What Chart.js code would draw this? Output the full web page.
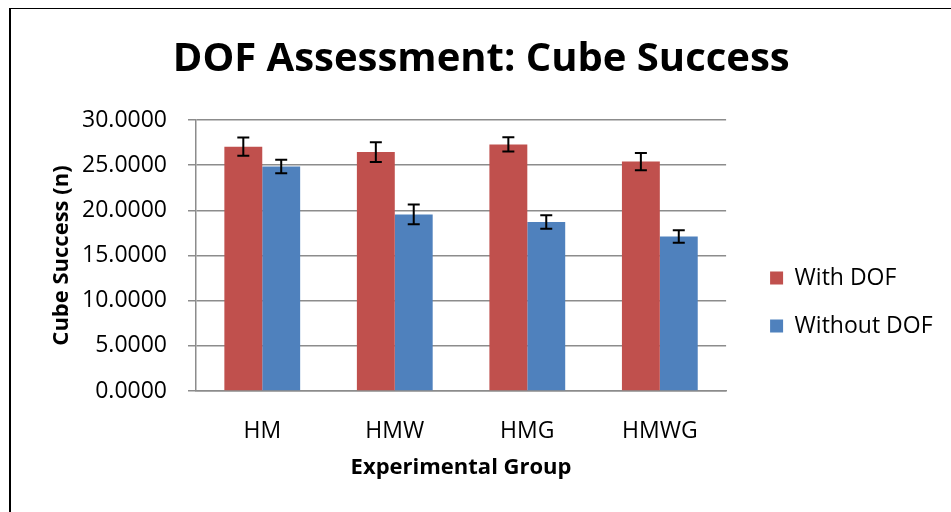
<!DOCTYPE html>
<html lang="en">
<head>
  <meta charset="UTF-8">
  <title>DOF Assessment: Cube Success</title>
  <script src="https://cdn.jsdelivr.net/npm/chart.js"></script>
  <style>
    html, body { margin: 0; padding: 0; background: #fff; overflow: hidden; }
    #frame {
      position: absolute; left: 9px; top: 8px; width: 960px; height: 520px;
      border-left: 2px solid #000; border-top: 1px solid #000;
    }
    #grafico { position: absolute; left: 0; top: 0; }
  </style>
</head>
<body>
  <div id="frame"></div>
  <canvas id="grafico" width="951" height="512"></canvas>
<script>
  // dados
  const grupos = ['HM', 'HMW', 'HMG', 'HMWG'];
  const comDof = [27.05, 26.45, 27.3, 25.4];
  const comDofErro = [1.0, 1.1, 0.8, 0.95];
  const semDof = [24.85, 19.55, 18.7, 17.1];
  const semDofErro = [0.75, 1.1, 0.75, 0.7];
  const yMin = 0, yMax = 30, yPasso = 5;

  Chart.defaults.font.family = "'Open Sans', sans-serif";
  Chart.defaults.color = '#000';

  // barras de erro desenhadas com a escala y do proprio grafico
  const barrasErro = {
    id: 'barrasErro',
    afterDatasetsDraw(chart) {
      const ctx = chart.ctx;
      const y = chart.scales.y;
      chart.data.datasets.forEach((ds, i) => {
        const meta = chart.getDatasetMeta(i);
        meta.data.forEach((bar, j) => {
          const v = ds.data[j], e = ds.erros[j];
          const yTop = y.getPixelForValue(v + e);
          const yBot = y.getPixelForValue(v - e);
          ctx.save();
          ctx.strokeStyle = '#000';
          ctx.lineWidth = 2;
          ctx.beginPath();
          ctx.moveTo(bar.x, yTop); ctx.lineTo(bar.x, yBot);
          ctx.moveTo(bar.x - 6, yTop); ctx.lineTo(bar.x + 6, yTop);
          ctx.moveTo(bar.x - 6, yBot); ctx.lineTo(bar.x + 6, yBot);
          ctx.stroke();
          ctx.restore();
        });
      });
    }
  };

  const grafico = new Chart(document.getElementById('grafico'), {
    type: 'bar',
    data: {
      labels: grupos,
      datasets: [{
        label: 'With DOF',
        data: comDof,
        erros: comDofErro,
        backgroundColor: '#C0504D'
      }, {
        label: 'Without DOF',
        data: semDof,
        erros: semDofErro,
        backgroundColor: '#4F81BD'
      }]
    },
    options: {
      responsive: false,
      animation: false,
      devicePixelRatio: 1,
      categoryPercentage: 0.572,
      barPercentage: 1.0,
      layout: { padding: { left: 20, right: 8.5, top: 0, bottom: 0 } },
      plugins: {
        title: {
          display: true,
          text: 'DOF Assessment: Cube Success',
          font: { size: 40, weight: 'bold' },
          color: '#000',
          padding: { top: 36, bottom: 36 }
        },
        legend: {
          position: 'right',
          maxWidth: 240,
          title: { display: true, text: ' ', font: { size: 10 }, padding: { top: 0, bottom: 80 } },
          labels: { boxWidth: 13, boxHeight: 13, padding: 25, font: { size: 23 }, color: '#000' }
        },
        tooltip: { enabled: false }
      },
      scales: {
        x: {
          grid: { display: false },
          border: { display: true, color: '#8c8c8c', width: 1.5 },
          ticks: { font: { size: 23 }, color: '#000', padding: 19 },
          title: {
            display: true, text: 'Experimental Group',
            font: { size: 22, weight: 'bold' }, color: '#000',
            padding: { top: 0, bottom: 31 }
          },
          afterFit: (s) => { s.height = 121; }
        },
        y: {
          min: yMin, max: yMax,
          ticks: { stepSize: yPasso, font: { size: 23 }, color: '#000', padding: 21,
                   callback: (v) => v.toFixed(4) },
          grid: { color: '#8c8c8c', lineWidth: 1.5, tickLength: 8 },
          border: { color: '#8c8c8c', width: 1.5 },
          title: {
            display: true, text: 'Cube Success (n)',
            font: { size: 22, weight: 'bold' }, color: '#000',
            padding: { top: 29, bottom: 0 }
          },
          afterFit: (s) => { s.width = 176; }
        },
        // espaco entre a area do grafico e a legenda
        folga: {
          type: 'linear', position: 'right', display: true,
          grid: { display: false }, ticks: { display: false }, border: { display: false },
          afterFit: (s) => { s.width = 19; }
        }
      }
    },
    plugins: [barrasErro]
  });
</script>
</body>
</html>
